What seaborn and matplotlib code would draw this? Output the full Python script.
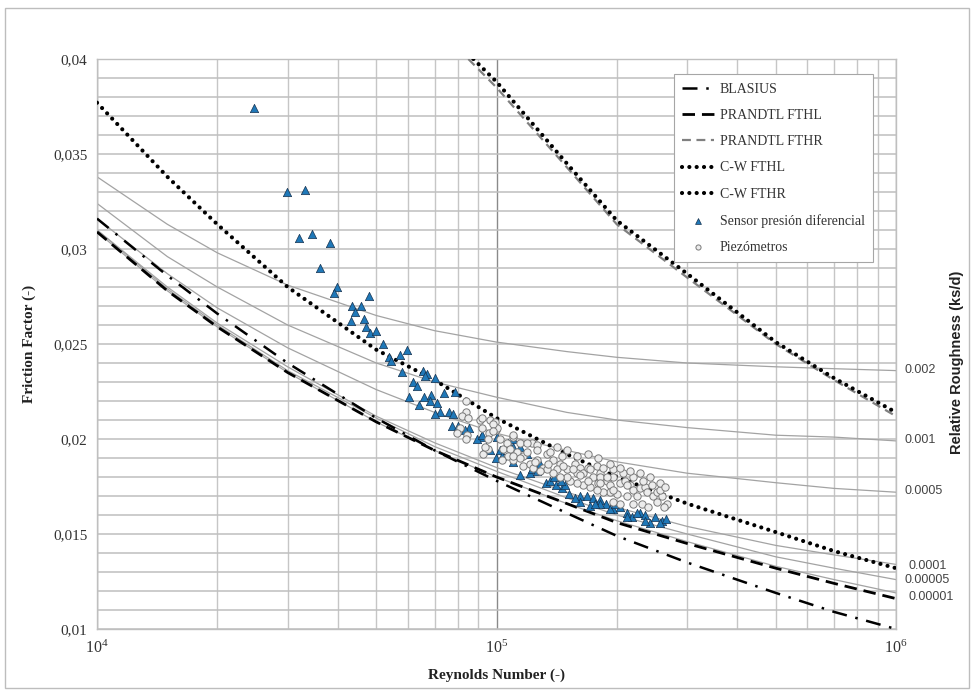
import math
import matplotlib
matplotlib.use("Agg")
import matplotlib.pyplot as plt
import matplotlib.ticker as mticker
import matplotlib.transforms as mtransforms
from matplotlib.patches import Rectangle
import seaborn as sns

# ---------------- data ----------------
re_grid = [1e4, 1.5e4, 2e4, 3e4, 5e4, 7e4, 1e5, 1.5e5, 2e5, 3e5, 5e5, 7e5, 1e6]
f_blasius = [0.0316, 0.0286, 0.0266, 0.0240, 0.0211, 0.0194, 0.0178, 0.0161, 0.0149, 0.0135, 0.0119, 0.0109, 0.0100]
f_prandtl_fthl = [0.0309, 0.0278, 0.0259, 0.0235, 0.0209, 0.0194, 0.0180, 0.0166, 0.0156, 0.0145, 0.0132, 0.0124, 0.0116]
f_cw_fthl = [0.0377, 0.0338, 0.0313, 0.0280, 0.0247, 0.0231, 0.0211, 0.0192, 0.0180, 0.0166, 0.0151, 0.0141, 0.0132]

re_cw_fthr = [87500, 1e5, 1.5e5, 2e5, 3e5, 5e5, 7e5, 1e6]
f_cw_fthr = [0.0400, 0.0388, 0.0345, 0.0315, 0.0287, 0.0251, 0.0232, 0.0214]
re_prandtl_fthr = [85000, 1e5, 1.5e5, 2e5, 3e5, 5e5, 7e5, 1e6]
f_prandtl_fthr = [0.0400, 0.0385, 0.0343, 0.0313, 0.0285, 0.0250, 0.0231, 0.0212]

roughness_labels = ["0.002", "0.001", "0.0005", "0.0001", "0.00005", "0.00001"]
f_rough_0_002 = [0.0338, 0.0313, 0.0298, 0.0281, 0.0265, 0.0257, 0.0251, 0.0246, 0.0243, 0.0240, 0.0238, 0.0237, 0.0236]
f_rough_0_001 = [0.0324, 0.0296, 0.0280, 0.0260, 0.0240, 0.0230, 0.0222, 0.0214, 0.0210, 0.0206, 0.0202, 0.0201, 0.0199]
f_rough_0_0005 = [0.0316, 0.0287, 0.0269, 0.0248, 0.0226, 0.0214, 0.0203, 0.0194, 0.0188, 0.0182, 0.0177, 0.0174, 0.0172]
f_rough_0_0001 = [0.0310, 0.0280, 0.0261, 0.0238, 0.0212, 0.0198, 0.0185, 0.0172, 0.0164, 0.0154, 0.0144, 0.0139, 0.0134]
f_rough_0_00005 = [0.0310, 0.0279, 0.0260, 0.0236, 0.0211, 0.0196, 0.0183, 0.0169, 0.0160, 0.0150, 0.0138, 0.0132, 0.0126]
f_rough_0_00001 = [0.0309, 0.0278, 0.0259, 0.0235, 0.0209, 0.0194, 0.0180, 0.0166, 0.0157, 0.0146, 0.0133, 0.0126, 0.0119]
roughness_label_f = [0.02363, 0.01995, 0.01726, 0.01332, 0.01258, 0.01169]

re_sensor = [24700, 29900, 33200, 32000, 34500, 36200, 38300, 39900, 39200, 48000,
             43500, 45800, 44200, 46600, 43200, 47100, 48200, 49900, 52000, 59700,
             53800, 57300, 54400, 58000, 65500, 67000, 66200, 70200, 61800, 63200,
             78700, 73900, 60400, 65800, 68600, 68200, 71000, 64000, 76100, 72200,
             70200, 77800, 77400, 80100, 85300, 83600, 91500, 89400, 100000, 94100,
             96300, 99700, 102000, 92200, 110000, 110000, 114500, 121000, 128500, 133000,
             136000, 146000, 148000, 152000, 162000, 168000, 174000, 182000, 188000, 196000,
             204000, 212000, 218000, 229000, 236000, 242000, 250000, 259000, 119000, 123000,
             126000, 139000, 141000, 145000, 171000, 182000, 192000, 212000, 225000, 162000,
             235000, 257000, 266000, 157000, 176000, 198000, 103000, 107000, 114500, 110000]
f_sensor = [0.0374, 0.0330, 0.0331, 0.0306, 0.0308, 0.0290, 0.0303, 0.0280, 0.0277, 0.0275,
            0.0270, 0.0270, 0.0267, 0.0263, 0.0262, 0.0259, 0.0256, 0.0257, 0.0250, 0.0247,
            0.0243, 0.0244, 0.0241, 0.0235, 0.0236, 0.0234, 0.0233, 0.0232, 0.0230, 0.0228,
            0.0225, 0.0224, 0.0222, 0.0222, 0.0223, 0.0220, 0.0219, 0.0218, 0.0214, 0.0214,
            0.0213, 0.0213, 0.0207, 0.0207, 0.0206, 0.0205, 0.0201, 0.0200, 0.0201, 0.0196,
            0.0194, 0.0190, 0.0194, 0.0202, 0.0196, 0.0188, 0.0181, 0.0182, 0.0187, 0.0177,
            0.0178, 0.0174, 0.0176, 0.0171, 0.0170, 0.0170, 0.0169, 0.0168, 0.0166, 0.0163,
            0.0164, 0.0161, 0.0159, 0.0161, 0.0160, 0.0156, 0.0159, 0.0157, 0.0192, 0.0184,
            0.0183, 0.0180, 0.0176, 0.0178, 0.0165, 0.0166, 0.0163, 0.0159, 0.0161, 0.0167,
            0.0157, 0.0156, 0.0158, 0.0169, 0.0166, 0.0166, 0.0191, 0.0198, 0.0196, 0.0200]

re_piezo = [83900, 83900, 82000, 84900, 81000, 79600, 84400, 83900, 90900, 92000,
            96300, 99100, 99700, 100300, 95700, 95200, 92500, 95200, 102000, 103800,
            106200, 110000, 108000, 112800, 106800, 110000, 116500, 119300, 122500, 126400,
            126400, 116500, 121000, 126400, 130800, 133500, 136000, 138400, 144000, 145700,
            141600, 149700, 157000, 162000, 158800, 164800, 169800, 173900, 182000, 179100,
            189200, 192000, 195500, 204000, 210000, 216000, 219700, 229000, 235000, 237800,
            246000, 252000, 260000, 264000, 224600, 212300, 200600, 192000, 185100, 178100,
            171000, 164800, 158800, 153000, 149700, 144000, 138400, 133500, 128500, 123200,
            231500, 219700, 204000, 195500, 239400, 252000, 92000, 98000, 98000, 93600,
            103200, 110000, 114500, 119300, 125000, 134300, 146500, 155200, 162000, 178100,
            182000, 189200, 212300, 267000, 262000, 195500, 182000, 169000, 110000, 114500,
            171000, 185100, 195500, 207500, 219700, 232200, 244700, 257000, 169000, 158800,
            149700, 141600, 179100, 192000, 204000, 216000, 229000, 242000, 257000, 264000]
f_piezo = [0.0220, 0.0214, 0.0212, 0.0211, 0.0206, 0.0203, 0.0202, 0.0200, 0.0210, 0.0206,
           0.0210, 0.0209, 0.0205, 0.0206, 0.0203, 0.0200, 0.0192, 0.0195, 0.0200, 0.0195,
           0.0198, 0.0201, 0.0195, 0.0193, 0.0191, 0.0189, 0.0191, 0.0193, 0.0198, 0.0197,
           0.0194, 0.0186, 0.0187, 0.0189, 0.0185, 0.0192, 0.0193, 0.0189, 0.0187, 0.0191,
           0.0184, 0.0184, 0.0187, 0.0185, 0.0182, 0.0182, 0.0185, 0.0180, 0.0182, 0.0177,
           0.0178, 0.0176, 0.0180, 0.0177, 0.0178, 0.0176, 0.0173, 0.0174, 0.0175, 0.0172,
           0.0170, 0.0172, 0.0170, 0.0165, 0.0170, 0.0170, 0.0171, 0.0172, 0.0172, 0.0173,
           0.0175, 0.0176, 0.0177, 0.0178, 0.0180, 0.0180, 0.0182, 0.0184, 0.0183, 0.0185,
           0.0166, 0.0166, 0.0166, 0.0167, 0.0164, 0.0167, 0.0211, 0.0208, 0.0204, 0.0196,
           0.0189, 0.0202, 0.0198, 0.0198, 0.0188, 0.0187, 0.0186, 0.0184, 0.0181, 0.0186,
           0.0180, 0.0180, 0.0176, 0.0166, 0.0164, 0.0173, 0.0177, 0.0178, 0.0191, 0.0190,
           0.0184, 0.0185, 0.0184, 0.0182, 0.0180, 0.0178, 0.0176, 0.0173, 0.0192, 0.0191,
           0.0194, 0.0196, 0.0190, 0.0187, 0.0185, 0.0183, 0.0182, 0.0180, 0.0177, 0.0175]

y_ticks = [0.01, 0.015, 0.02, 0.025, 0.03, 0.035, 0.04]

# ---------------- styling ----------------
sns.set_theme(style="white")
plt.rcParams["font.family"] = ["Liberation Serif", "DejaVu Serif"]
plt.rcParams["mathtext.fontset"] = "custom"
plt.rcParams["mathtext.rm"] = "Liberation Serif"
plt.rcParams["mathtext.it"] = "Liberation Serif:italic"
plt.rcParams["mathtext.bf"] = "Liberation Serif:bold"

fig = plt.figure(figsize=(9.75, 6.9), dpi=100)
ax = fig.add_axes([0.0995, 0.0884, 0.8195, 0.8261])

# outer border of the figure
fig.patches.append(Rectangle((0.005, 0.003), 0.989, 0.985, transform=fig.transFigure,
                             fill=False, edgecolor="#bdbdbd", linewidth=1.0))

ax.set_xscale("log")
ax.set_xlim(1e4, 1e6)
ax.set_ylim(0.01, 0.04)

# gridlines
ax.set_yticks(y_ticks)
ax.yaxis.set_minor_locator(mticker.MultipleLocator(0.001))
ax.xaxis.set_minor_locator(mticker.LogLocator(base=10, subs=range(2, 10)))
ax.xaxis.set_minor_formatter(mticker.NullFormatter())
ax.grid(True, axis="y", which="both", color="#bfbfbf", linewidth=1.1, zorder=0)
ax.grid(True, axis="x", which="minor", color="#c6c6c6", linewidth=1.0, zorder=0)
ax.grid(True, axis="x", which="major", color="#8a8a8a", linewidth=1.0, zorder=0)
ax.set_axisbelow(True)
for s in ax.spines.values():
    s.set_color("#bfbfbf")
    s.set_linewidth(1.0)
ax.tick_params(which="both", length=0)
ax.tick_params(axis="y", labelsize=11, pad=7, colors="#333333")
ax.tick_params(axis="x", labelsize=11.5, pad=8, colors="#333333")
ax.yaxis.set_major_formatter(mticker.FuncFormatter(lambda v, p: f"{v:g}".replace(".", ",")))
ax.xaxis.set_major_formatter(mticker.FuncFormatter(lambda v, p: r"$10^{%d}$" % round(math.log10(v))))

# roughness (Colebrook) curves
rough_sets = [f_rough_0_002, f_rough_0_001, f_rough_0_0005, f_rough_0_0001, f_rough_0_00005, f_rough_0_00001]
for fr in rough_sets:
    sns.lineplot(x=re_grid, y=fr, ax=ax, color="#a3a3a3", linewidth=0.9, zorder=2)

# main reference curves
sns.lineplot(x=re_grid, y=f_blasius, ax=ax, color="black", linewidth=1.8,
             linestyle=(0, (6, 3.5, 1, 3.5)), label="BLASIUS", zorder=3)
sns.lineplot(x=re_grid, y=f_prandtl_fthl, ax=ax, color="black", linewidth=2.0,
             linestyle=(0, (4.5, 2.5)), label="PRANDTL FTHL", zorder=3)
sns.lineplot(x=re_prandtl_fthr, y=f_prandtl_fthr, ax=ax, color="#808080", linewidth=1.6,
             linestyle=(0, (4, 2.5)), label="PRANDTL FTHR", zorder=3)
sns.lineplot(x=re_grid, y=f_cw_fthl, ax=ax, color="black", linewidth=3.0,
             linestyle=(0, (0.01, 1.75)), dash_capstyle="round", label="C-W FTHL", zorder=3)
sns.lineplot(x=re_cw_fthr, y=f_cw_fthr, ax=ax, color="black", linewidth=3.0,
             linestyle=(0, (0.01, 1.75)), dash_capstyle="round", label="C-W FTHR", zorder=3)

# measurements
sns.scatterplot(x=re_sensor, y=f_sensor, ax=ax, marker="^", s=36, color="#1f78b8",
                edgecolor="#16324f", linewidth=0.5, label="Sensor presión diferencial", zorder=4)
sns.scatterplot(x=re_piezo, y=f_piezo, ax=ax, marker="o", s=28, color="#ececec",
                edgecolor="#7a7a7a", linewidth=0.7, label="Piezómetros", zorder=5)

# legend
handles, labels = ax.get_legend_handles_labels()
leg = ax.legend(handles, labels, loc="upper right", bbox_to_anchor=(0.98, 0.985),
                fontsize=10, frameon=True, fancybox=False, framealpha=1,
                edgecolor="#a6a6a6", labelspacing=0.95, handlelength=2.3,
                handletextpad=0.4, borderpad=0.6, markerscale=0.7)
leg.get_frame().set_linewidth(0.8)
for t in leg.get_texts():
    t.set_color("#333333")

# axis labels
ax.set_xlabel("Reynolds Number (-)", fontsize=11, fontweight="bold", labelpad=8, color="#222222")
ax.set_ylabel("Friction Factor (-)", fontsize=11, fontweight="bold", labelpad=12, color="#222222")

# right-side roughness labels
trans = mtransforms.blended_transform_factory(ax.transAxes, ax.transData)
label_x = [1.011, 1.011, 1.011, 1.015, 1.011, 1.015]
for lab, yv, xv in zip(roughness_labels, roughness_label_f, label_x):
    ax.text(xv, yv, lab, transform=trans, ha="left", va="center", fontsize=9,
            family=["Liberation Sans", "DejaVu Sans"], color="#444444")
ax.text(1.076, 0.467, "Relative Roughness (ks/d)", transform=ax.transAxes, rotation=90,
        ha="center", va="center", fontsize=10.5, fontweight="bold",
        family=["Liberation Sans", "DejaVu Sans"], color="#222222")

fig.savefig("out.png", dpi=100)
